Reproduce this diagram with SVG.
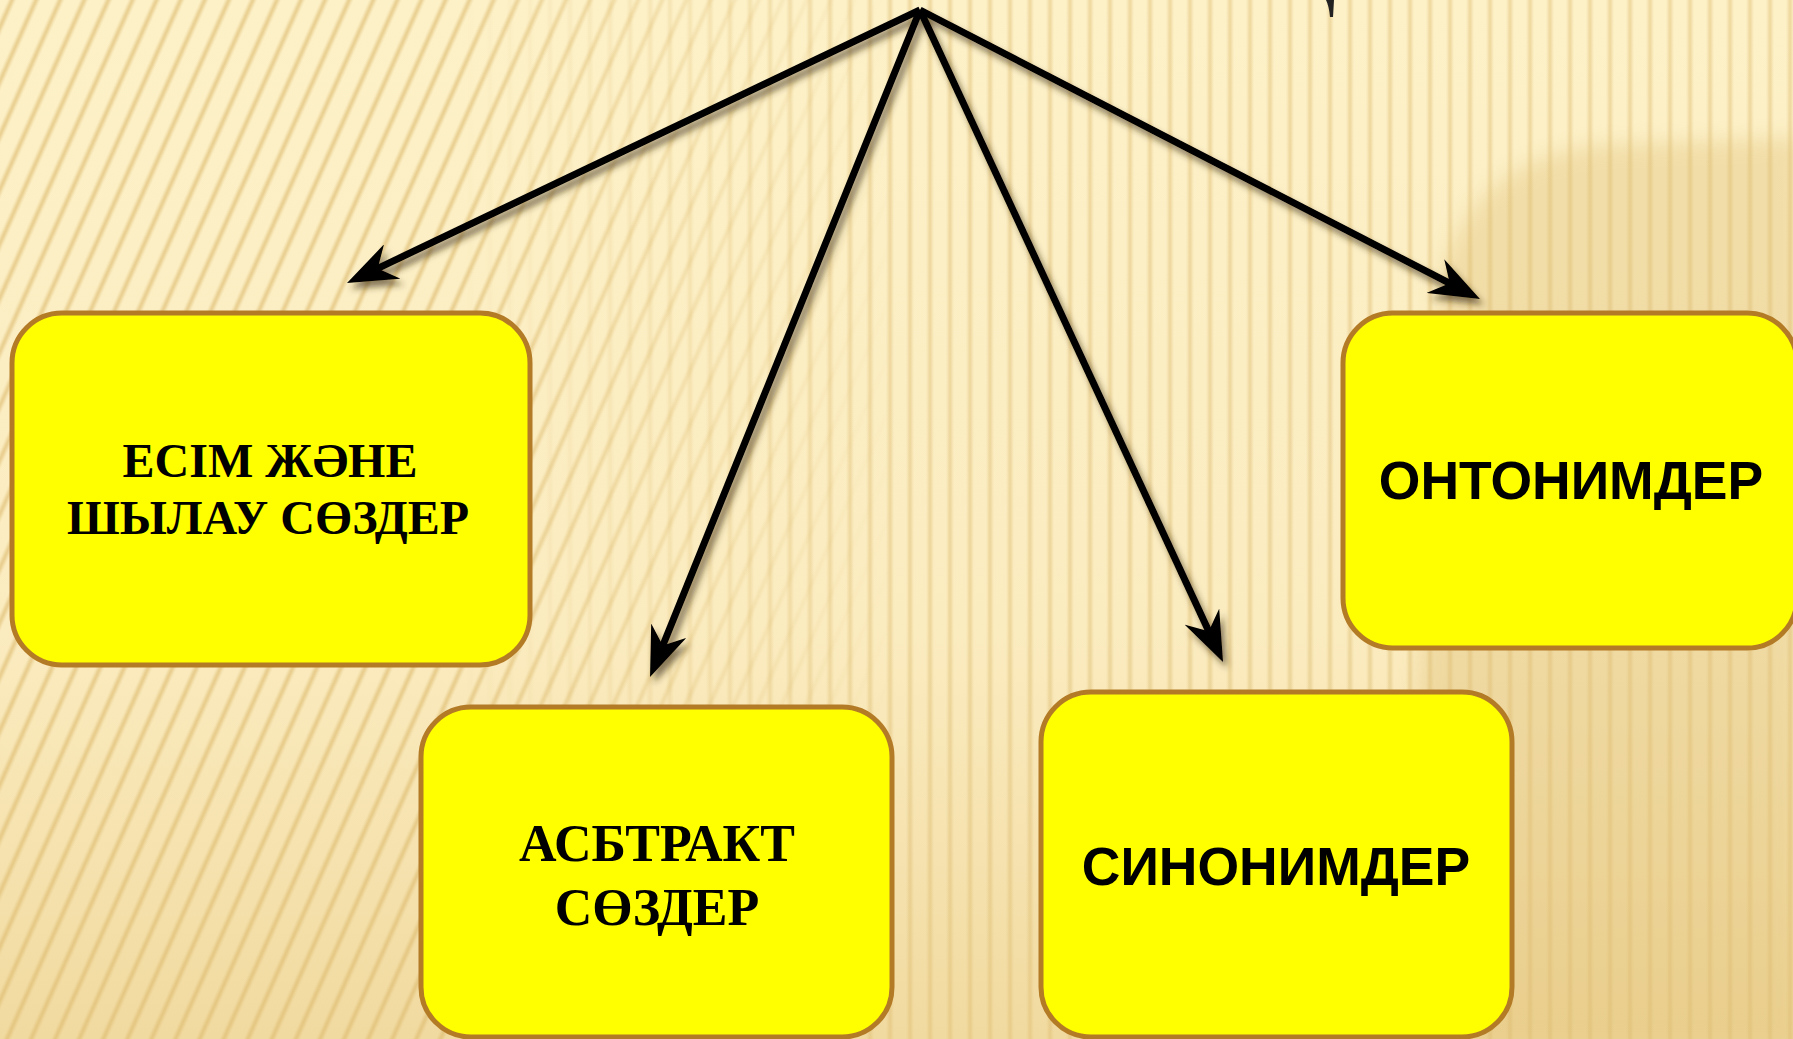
<svg xmlns="http://www.w3.org/2000/svg" width="1793" height="1039" viewBox="0 0 1793 1039">
<style>
.box{fill:#FFFF00;stroke:#B47B26;stroke-width:5}
.serif{font-family:"Liberation Serif","Times New Roman",serif;font-weight:bold;fill:#000;text-anchor:middle}
.sans{font-family:"Liberation Sans",Arial,sans-serif;font-weight:bold;fill:#000;text-anchor:middle}
.conn{fill:none;stroke:#000;stroke-width:7;marker-end:url(#ah)}
</style>
<defs>
<linearGradient id="bg" x1="0" y1="0" x2="0" y2="1">
<stop offset="0" stop-color="#FDF1C8"/>
<stop offset="0.6" stop-color="#FBECC0"/>
<stop offset="1" stop-color="#F1DAA0"/>
</linearGradient>
<linearGradient id="sg" x1="0" y1="0" x2="1" y2="0">
<stop offset="0" stop-color="#DDBB70" stop-opacity="0"/>
<stop offset="0.5" stop-color="#DDBB70" stop-opacity="0.8"/>
<stop offset="1" stop-color="#DDBB70" stop-opacity="0"/>
</linearGradient>
<pattern id="stripeV" patternUnits="userSpaceOnUse" width="20" height="40">
<rect x="6" y="0" width="8" height="40" fill="url(#sg)"/>
</pattern>
<pattern id="stripeS" patternUnits="userSpaceOnUse" width="22" height="40" patternTransform="rotate(24)">
<rect x="7" y="-2" width="8" height="44" fill="url(#sg)"/>
</pattern>
<linearGradient id="mL" gradientUnits="userSpaceOnUse" x1="0" y1="0" x2="1793" y2="0">
<stop offset="0" stop-color="#fff"/>
<stop offset="0.25" stop-color="#fff"/>
<stop offset="0.5" stop-color="#000"/>
</linearGradient>
<linearGradient id="mR" gradientUnits="userSpaceOnUse" x1="0" y1="0" x2="1793" y2="0">
<stop offset="0.25" stop-color="#000"/>
<stop offset="0.5" stop-color="#fff"/>
</linearGradient>
<mask id="maskL"><rect width="1793" height="1039" fill="url(#mL)"/></mask>
<mask id="maskR"><rect width="1793" height="1039" fill="url(#mR)"/></mask>
<filter id="soft" x="-20%" y="-20%" width="140%" height="140%"><feGaussianBlur stdDeviation="10"/></filter>
<filter id="shadow" x="-10%" y="-10%" width="120%" height="120%">
<feDropShadow dx="4" dy="6" stdDeviation="3" flood-color="#3a2a10" flood-opacity="0.6"/>
</filter>
<marker id="ah" markerUnits="userSpaceOnUse" viewBox="0 0 50 38" markerWidth="50" markerHeight="38" refX="20" refY="19" orient="auto">
<path d="M0,0 L50,19 L0,38 L16,19 z" fill="#000"/>
</marker>
</defs>

<g id="background">
<rect width="1793" height="1039" fill="url(#bg)"/>
<path d="M1800,138 L1600,145 Q1470,160 1440,280 L1400,1050 L1800,1050 z" fill="#D8B463" opacity="0.3" filter="url(#soft)"/>
<rect width="1793" height="1039" fill="url(#stripeS)" mask="url(#maskL)" opacity="0.85"/>
<rect width="1793" height="1039" fill="url(#stripeV)" mask="url(#maskR)" opacity="0.6"/>
<path d="M1326,0 L1334,0 L1333,17 L1330,17 Q1329,6 1326,0 z" fill="#222"/>
</g>

<g id="connectors" filter="url(#shadow)">
<path class="conn" d="M920,10 L374.1,270.1"/>
<path class="conn" d="M920,10 L661.3,649.2"/>
<path class="conn" d="M920,10 L1210.4,634.8"/>
<path class="conn" d="M920,10 L1453.3,285.2"/>
</g>

<g id="node-esim">
<rect class="box" x="12" y="313" width="518" height="352" rx="50" ry="50"/>
<text class="serif" x="270" y="477" font-size="48">ЕСІМ ЖӘНЕ</text>
<text class="serif" x="268" y="534" font-size="48">ШЫЛАУ СӨЗДЕР</text>
</g>

<g id="node-abstrakt">
<rect class="box" x="421" y="707" width="471" height="330" rx="50" ry="50"/>
<text class="serif" x="657" y="861" font-size="52">АСБТРАКТ</text>
<text class="serif" x="657" y="925" font-size="52">СӨЗДЕР</text>
</g>

<g id="node-sinonim">
<rect class="box" x="1041" y="692" width="471" height="345" rx="50" ry="50"/>
<text class="sans" x="1276" y="885" font-size="53.5">СИНОНИМДЕР</text>
</g>

<g id="node-ontonim">
<rect class="box" x="1343" y="313" width="454" height="335" rx="50" ry="50"/>
<text class="sans" x="1571" y="499" font-size="53.5">ОНТОНИМДЕР</text>
</g>
</svg>
